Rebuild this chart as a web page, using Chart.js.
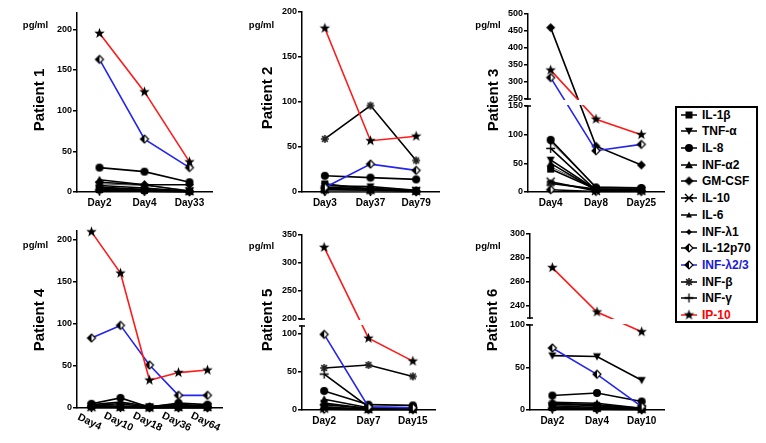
<!DOCTYPE html>
<html><head><meta charset="utf-8">
<script src="https://cdn.jsdelivr.net/npm/chart.js@4.4.1/dist/chart.umd.min.js"></script>
<style>
html,body{margin:0;padding:0;background:#fff;width:766px;height:443px;overflow:hidden;position:relative;font-family:"Liberation Sans",Arial,sans-serif;color:#000;}
canvas{position:absolute;}
.title{position:absolute;font-weight:bold;font-size:15px;transform:translate(-50%,-50%) rotate(-90deg);white-space:nowrap;}
.unit{position:absolute;font-weight:bold;font-size:9.5px;transform:translate(-50%,-50%);white-space:nowrap;}
#legend{position:absolute;left:675px;top:106px;width:79px;height:213px;border:2px solid #000;}
.row{position:absolute;left:0;width:79px;height:16.7px;}
.row canvas{position:absolute;left:4px;top:2px;}
.row span{position:absolute;left:25px;top:0;line-height:16.7px;font-weight:bold;font-size:12px;white-space:nowrap;}
</style></head>
<body>
<script>
// ---------- data ----------
const cytokines = ["IL-1β","TNF-α","IL-8","INF-α2","GM-CSF","IL-10","IL-6","INF-λ1","IL-12p70","INF-λ2/3","INF-β","INF-γ","IP-10"];

const days1 = ["Day2","Day4","Day33"];
const days2 = ["Day3","Day37","Day79"];
const days3 = ["Day4","Day8","Day25"];
const days4 = ["Day4","Day10","Day18","Day36","Day64"];
const days5 = ["Day2","Day7","Day15"];
const days6 = ["Day2","Day4","Day10"];

// rows follow the cytokines order
const patient1 = [[3,2,1],[5,3,1],[30,25,12],[15,9,1],[12,9,9],[8,5,1],[10,8,2],[4,2,1],[2,1,0.5],[163,65,30],[6,3,1],[1,1,0.5],[195,123,37]];
const patient2 = [[9,3,1],[7,6,2],[18,16,14],[5,4,2],[4,3,1],[3,2,1],[2,2,1],[1,1,1],[1,1,0.5],[5,31,24],[59,96,35],[0.5,0.5,0.5],[182,57,62]];
const patient3 = [[40,5,4],[56,4,3],[91,8,7],[50,3,3],[460,80,47],[18,2,2],[44,6,5],[87,9,8],[4,1,1],[313,72,83],[15,5,6],[76,3,2],[335,127,100]];
const patient4 = [[2,1,1,1,1],[3,2,1,2,1],[5,12,1,6,4],[4,7,2,4,3],[3,5,1,3,2],[1,1,0.5,1,1],[2,3,1,2,1],[1,2,1,1,1],[1,1,0.5,0.5,0.5],[83,98,51,15,15],[2,2,1,1,1],[0.5,0.5,0.5,0.5,0.5],[209,160,33,42,45]];
const patient5 = [[4,1,1],[9,2,2],[25,7,6],[14,3,2],[7,2,1],[2,1,1],[5,1,1],[3,1,1],[1,0.5,0.5],[99,4,3],[55,59,44],[47,4,3],[328,94,64]];
const patient6 = [[3,2,1],[64,63,35],[17,20,10],[9,8,2],[7,5,1],[5,3,1],[6,4,1],[4,3,1],[2,1,0.5],[73,42,4],[8,6,2],[1,1,0.5],[272,235,92]];

const ticks1 = [0,50,100,150,200];
const ticks2 = [0,50,100,150,200];
const ticks3 = [0,50,100,150,250,300,350,400,450,500];
const ticks4 = [0,50,100,150,200];
const ticks5 = [0,50,100,200,250,300,350];
const ticks6 = [0,50,100,240,260,280,300];

// ---------- styles ----------
const FONT = '"Liberation Sans", Arial, sans-serif';
Chart.defaults.font.family = FONT;
const RED = '#ff1a1a', BLUE = '#2424ee';
const markerKinds = ['square','tridown','circle','tri','diamond','xbar','trismall','diamondsmall','halfdiamond','halfdiamond','asterisk','plus','star'];
const markerSizes = [7,8,8,8,9,8,6,6,8,8,8,9,11];
const lineColors = cytokines.map((c,k)=> k===12 ? RED : (k===9 ? BLUE : ((k===6||k===7) ? '#555' : '#000')));
const lineWidths = cytokines.map((c,k)=> (k===6||k===7) ? 1 : 1.6);

function makeMarker(kind, size){
  const pad = 2, s = Math.ceil(size) + pad*2;
  const c = document.createElement('canvas'); c.width = s; c.height = s;
  const g = c.getContext('2d'); const m = s/2; let r = size/2;
  g.fillStyle = '#000'; g.strokeStyle = '#000'; g.lineWidth = 1.4;
  g.beginPath();
  if (kind==='square'){ g.fillRect(m-r,m-r,size,size); }
  else if (kind==='circle'){ g.arc(m,m,r,0,Math.PI*2); g.fill(); }
  else if (kind==='tri' || kind==='trismall'){ g.moveTo(m,m-r); g.lineTo(m+r,m+r*0.8); g.lineTo(m-r,m+r*0.8); g.closePath(); g.fill(); }
  else if (kind==='tridown'){ g.moveTo(m,m+r); g.lineTo(m+r,m-r*0.8); g.lineTo(m-r,m-r*0.8); g.closePath(); g.fill(); }
  else if (kind==='diamond' || kind==='diamondsmall'){ g.moveTo(m,m-r); g.lineTo(m+r,m); g.lineTo(m,m+r); g.lineTo(m-r,m); g.closePath(); g.fill(); }
  else if (kind==='halfdiamond'){
    g.lineWidth = 1.2;
    g.moveTo(m,m-r); g.lineTo(m+r,m); g.lineTo(m,m+r); g.lineTo(m-r,m); g.closePath();
    g.fillStyle='#fff'; g.fill(); g.stroke();
    g.beginPath(); g.moveTo(m,m-r); g.lineTo(m,m+r); g.lineTo(m-r,m); g.closePath(); g.fillStyle='#000'; g.fill();
  }
  else if (kind==='xbar'){ g.moveTo(m-r,m-r); g.lineTo(m+r,m+r); g.moveTo(m-r,m+r); g.lineTo(m+r,m-r); g.moveTo(m-r,m); g.lineTo(m+r,m); g.stroke(); }
  else if (kind==='asterisk'){ g.strokeStyle='#222'; g.lineWidth=1.6; for(let a=0;a<4;a++){ const t=a*Math.PI/4; g.moveTo(m-r*Math.cos(t),m-r*Math.sin(t)); g.lineTo(m+r*Math.cos(t),m+r*Math.sin(t)); } g.stroke(); }
  else if (kind==='plus'){ g.lineWidth=1.3; g.moveTo(m,m-r); g.lineTo(m,m+r); g.moveTo(m-r,m); g.lineTo(m+r,m); g.stroke(); }
  else if (kind==='star'){ const ri=r*0.42; for(let i=0;i<10;i++){ const rr=i%2?ri:r; const t=-Math.PI/2+i*Math.PI/5; const x=m+rr*Math.cos(t), y=m+rr*Math.sin(t); if(i) g.lineTo(x,y); else g.moveTo(x,y);} g.closePath(); g.fill(); }
  return c;
}
const markers = markerKinds.map((k,i)=>makeMarker(k, markerSizes[i]));

// ---------- broken (two-segment) linear scale ----------
class BrokenScale extends Chart.LinearScale {
  _frac(v){
    const o = this.options, lo = o.brkLowMax, hi = o.brkHighMin, fl = o.brkLowFrac, fh = o.brkHighFrac;
    if (v <= lo) return (v - this.min) / (lo - this.min) * fl;
    if (v >= hi) return fh + (v - hi) / (this.max - hi) * (1 - fh);
    return fl + (v - lo) / (hi - lo) * (fh - fl);
  }
  getPixelForValue(v){ if (v === null || v === undefined) return NaN; return this.bottom - this._frac(v) * (this.bottom - this.top); }
  getValueForPixel(p){
    const o = this.options, f = (this.bottom - p) / (this.bottom - this.top);
    if (f <= o.brkLowFrac) return this.min + f / o.brkLowFrac * (o.brkLowMax - this.min);
    if (f >= o.brkHighFrac) return o.brkHighMin + (f - o.brkHighFrac) / (1 - o.brkHighFrac) * (this.max - o.brkHighMin);
    return o.brkLowMax + (f - o.brkLowFrac) / (o.brkHighFrac - o.brkLowFrac) * (o.brkHighMin - o.brkLowMax);
  }
}
BrokenScale.id = 'broken';
BrokenScale.defaults = Chart.LinearScale.defaults;
Chart.register(BrokenScale);

// ---------- plugins ----------
const bandPlugin = { id:'breakBand', afterDatasetsDraw(chart){
  const ys = chart.scales.y; const o = ys.options;
  if (o.brkLowMax === undefined) return;
  const a = chart.chartArea, ctx = chart.ctx;
  const pH = ys.getPixelForValue(o.brkHighMin), pL = ys.getPixelForValue(o.brkLowMax);
  ctx.save(); ctx.fillStyle = '#fff';
  ctx.fillRect(a.left - 3, pH + 1, a.right - a.left + 8, pL - pH - 2);
  ctx.strokeStyle = '#000'; ctx.lineWidth = 1.5; ctx.beginPath();
  ctx.moveTo(a.left - 3, pH); ctx.lineTo(a.left + 3, pH);
  ctx.moveTo(a.left - 3, pL); ctx.lineTo(a.left + 3, pL);
  ctx.stroke(); ctx.restore();
}};
const rotPlugin = { id:'rotLabels', afterDraw(chart, args, opts){
  if(!opts || !opts.on) return;
  const xs = chart.scales.x, ctx = chart.ctx;
  ctx.save(); ctx.font = 'bold 10.5px ' + FONT; ctx.fillStyle='#000'; ctx.textAlign='center'; ctx.textBaseline='middle';
  chart.data.labels.forEach((lab,i)=>{ const x = xs.getPixelForTick(i); ctx.save(); ctx.translate(x-2, xs.top+14); ctx.rotate(0.45); ctx.fillText(lab,0,0); ctx.restore(); });
  ctx.restore();
}};
Chart.register(bandPlugin, rotPlugin);

// ---------- layout (pixel geometry of each panel) ----------
const panels = [
  {name:'Patient 1', days:days1, data:patient1, ticks:ticks1, min:0, max:220, axisX:77, right:213, top:13, bottom:192, tx:38, ty:100, ux:35.5, uy:24},
  {name:'Patient 2', days:days2, data:patient2, ticks:ticks2, min:0, max:200, axisX:302, right:440, top:12, bottom:192, tx:266, ty:98, ux:261.5, uy:24},
  {name:'Patient 3', days:days3, data:patient3, ticks:ticks3, min:0, max:500, axisX:528, right:665, top:14, bottom:192, tx:492, ty:100, ux:488, uy:24,
   brk:{lowMax:150, highMin:250, lowTop:106, highBottom:99}},
  {name:'Patient 4', days:days4, data:patient4, ticks:ticks4, min:0, max:210, axisX:77, right:223, top:231, bottom:408, tx:38, ty:320, ux:35.5, uy:244, rotate:true},
  {name:'Patient 5', days:days5, data:patient5, ticks:ticks5, min:0, max:350, axisX:302, right:436, top:235, bottom:410, tx:266, ty:320, ux:261.5, uy:245,
   brk:{lowMax:110, highMin:200, lowTop:326, highBottom:319}},
  {name:'Patient 6', days:days6, data:patient6, ticks:ticks6, min:0, max:300, axisX:530, right:665, top:234, bottom:410, tx:491, ty:320, ux:488, uy:245,
   brk:{lowMax:100, highMin:230, lowTop:325, highBottom:318}}
];

function buildPanel(p){
  const padT = 8, padR = 3, yW = 34;
  const xH = p.rotate ? 32 : 24;
  const left = p.axisX - yW, top = p.top - padT;
  const width = (p.right - p.axisX) + yW + padR;
  const height = (p.bottom - top) + xH;
  const cv = document.createElement('canvas');
  cv.width = width; cv.height = height;
  cv.style.left = left+'px'; cv.style.top = top+'px'; cv.style.width = width+'px'; cv.style.height = height+'px';
  document.body.appendChild(cv);
  const clip = {left:12, right:12, top:12, bottom:12};
  const datasets = cytokines.map((name,k)=>({
    label:name, data:p.data[k],
    borderColor:lineColors[k], borderWidth:lineWidths[k], tension:0, fill:false,
    pointStyle:markers[k], pointRadius:4, pointHoverRadius:4, pointBorderWidth:0,
    pointBackgroundColor:'#000', pointBorderColor:'#000',
    order: k===12 ? 0 : (k===9 ? 1 : 2+k), clip
  }));
  const y = {type:'linear', min:p.min, max:p.max,
     grid:{display:true, drawOnChartArea:false, drawTicks:true, tickLength:4, color:'#000', lineWidth:1.5},
     border:{display:true, color:'#000', width:1.5},
     ticks:{color:'#000', font:{size:9, weight:'bold'}, padding:1},
     afterBuildTicks: s => { s.ticks = p.ticks.map(v=>({value:v})); },
     afterFit: s => { s.width = yW; }};
  if (p.brk){
    const H = p.bottom - p.top;
    y.type = 'broken';
    y.brkLowMax = p.brk.lowMax; y.brkHighMin = p.brk.highMin;
    y.brkLowFrac = (p.bottom - p.brk.lowTop) / H;
    y.brkHighFrac = (p.bottom - p.brk.highBottom) / H;
  }
  new Chart(cv, {
    type:'line',
    data:{labels:p.days, datasets},
    options:{
      responsive:false, maintainAspectRatio:false, animation:false, devicePixelRatio:1,
      events:[],
      layout:{padding:{top:padT, right:padR, bottom:0, left:0}},
      plugins:{legend:{display:false}, tooltip:{enabled:false}, rotLabels:{on: !!p.rotate}},
      scales:{
        x:{type:'category', offset:true,
           grid:{display:false, drawTicks:false},
           border:{display:true, color:'#000', width:1.5},
           ticks:{display: !p.rotate, color:'#000', font:{size:10, weight:'bold'}, padding:5, maxRotation:0, minRotation:0, autoSkip:false},
           afterFit: s => { s.height = xH; }},
        y
      }
    }
  });
}

panels.forEach(p=>{
  buildPanel(p);
  const t = document.createElement('div'); t.className='title'; t.textContent=p.name;
  t.style.left = p.tx+'px'; t.style.top = p.ty+'px'; document.body.appendChild(t);
  const u = document.createElement('div'); u.className='unit'; u.textContent='pg/ml';
  u.style.left = p.ux+'px'; u.style.top = p.uy+'px'; document.body.appendChild(u);
});

// ---------- legend ----------
const lg = document.createElement('div'); lg.id='legend'; document.body.appendChild(lg);
cytokines.forEach((name,k)=>{
  const row = document.createElement('div'); row.className='row'; row.style.top = (k*16.7 - 1.4)+'px';
  const ic = document.createElement('canvas'); ic.width=16; ic.height=12; ic.style.width='16px'; ic.style.height='12px';
  const g = ic.getContext('2d'); g.strokeStyle = lineColors[k]==='#555' ? '#000' : lineColors[k]; g.lineWidth=1.5;
  g.beginPath(); g.moveTo(0,6); g.lineTo(16,6); g.stroke();
  const mk = markers[k]; g.drawImage(mk, 8-mk.width/2, 6-mk.height/2);
  const sp = document.createElement('span'); sp.textContent = name;
  if(k===9) sp.style.color = '#1a1ad6'; if(k===12) sp.style.color = '#ff0000';
  row.appendChild(ic); row.appendChild(sp); lg.appendChild(row);
});
</script>
</body></html>
